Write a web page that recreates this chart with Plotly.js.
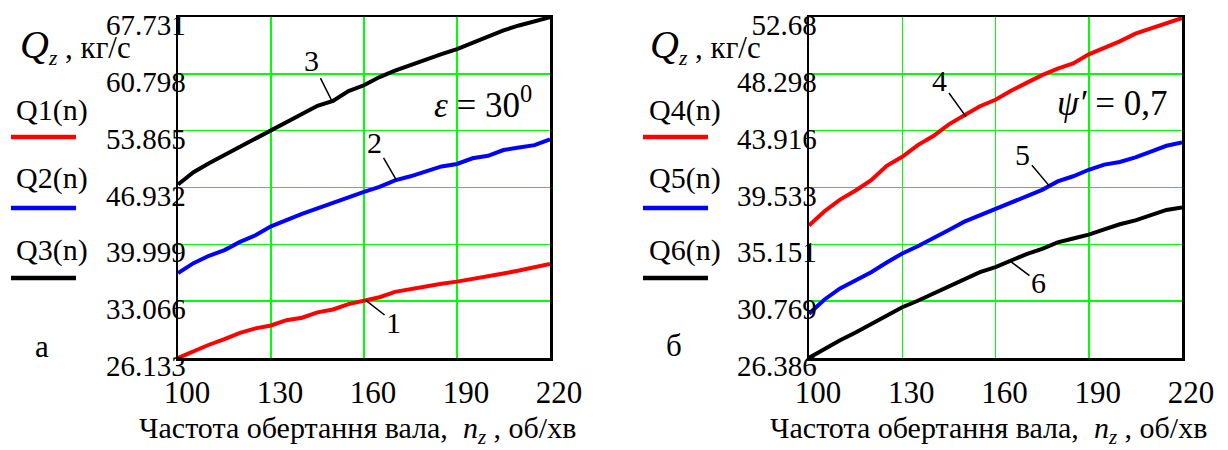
<!DOCTYPE html>
<html>
<head>
<meta charset="utf-8">
<script src="https://cdn.plot.ly/plotly-3.0.1.min.js"></script>
<style>html,body{margin:0;padding:0;background:#fff;}#chart{width:1228px;height:450px;}</style>
</head>
<body>
<div id="chart"></div>
<script>
// ---- data ----
const nValues = [100,105,110,115,120,125,130,135,140,145,150,155,160,165,170,175,180,185,190,195,200,205,210,215,220];
const Q1 = [26.13,27.0,27.75,28.45,29.2,29.75,30.1,30.75,31.05,31.7,32.05,32.7,33.15,33.55,34.2,34.55,34.9,35.2,35.45,35.75,36.1,36.45,36.8,37.15,37.6];
const Q2 = [36.5,37.7,38.6,39.3,40.3,41.1,42.2,43.0,43.7,44.4,45.1,45.8,46.4,47.0,47.8,48.3,48.9,49.5,49.8,50.5,50.8,51.5,51.8,52.1,52.8];
const Q3 = [47.3,48.8,49.9,50.9,51.9,52.9,53.9,54.9,55.9,56.9,57.5,58.7,59.4,60.4,61.2,61.9,62.5,63.2,63.8,64.6,65.4,66.1,66.7,67.2,67.7];
const Q4 = [36.6,37.7,38.6,39.3,40.1,41.2,41.9,42.8,43.5,44.4,45.1,45.8,46.3,47.0,47.6,48.2,48.7,49.1,49.8,50.3,50.8,51.4,51.8,52.2,52.6];
const Q5 = [29.8,30.9,31.75,32.35,33.0,33.75,34.45,35.0,35.6,36.25,36.9,37.4,37.9,38.4,38.9,39.35,40.0,40.4,40.9,41.3,41.5,41.85,42.3,42.75,43.0];
const Q6 = [26.4,27.1,27.75,28.35,29.0,29.7,30.3,30.8,31.35,31.9,32.5,33.0,33.4,33.9,34.4,34.8,35.3,35.6,35.9,36.3,36.7,37.0,37.4,37.8,38.0];

const xTicks = [100,130,160,190,220];
const xTickText = ['100','130','160','190','220'];
const yTicksLeft = [26.133,33.066,39.999,46.932,53.865,60.798,67.731];
const yTickTextLeft = ['26.133','33.066','39.999','46.932','53.865','60.798','67.731'];
const yTicksRight = [26.386,30.769,35.151,39.533,43.916,48.298,52.68];
const yTickTextRight = ['26.386','30.769','35.151','39.533','43.916','48.298','52.68'];

const legendLeft = ['Q1(n)','Q2(n)','Q3(n)'];
const legendRight = ['Q4(n)','Q5(n)','Q6(n)'];
const xTitle = 'Частота обертання вала,  <i>n</i><sub><i>z</i></sub> , об/хв';
const yTitle = '<span style="font-size:40px"><i>Q</i></span><sub><i>z</i></sub> , кг/с';

// ---- style ----
const W = 1228, H = 450;
const px = v => v / W;
const py = v => 1 - v / H;
const FONT = 'Liberation Serif';
const RED = '#ff0000', BLUE = '#0000ff', BLACK = '#000000', GRID = '#00ff00';

function line(x, y, color, xa, ya) {
  return {x: x, y: y, xaxis: xa, yaxis: ya, type: 'scatter', mode: 'lines',
          line: {color: color, width: 4}, showlegend: false, hoverinfo: 'skip'};
}
const traces = [
  line(nValues, Q1, RED, 'x', 'y'),
  line(nValues, Q2, BLUE, 'x', 'y'),
  line(nValues, Q3, BLACK, 'x', 'y'),
  line(nValues, Q4, RED, 'x2', 'y2'),
  line(nValues, Q5, BLUE, 'x2', 'y2'),
  line(nValues, Q6, BLACK, 'x2', 'y2')
];

function xaxisDef(dom, anchor) {
  return {domain: dom, anchor: anchor, range: [100, 220], tickvals: xTicks, ticktext: xTickText,
    showgrid: true, gridcolor: GRID, gridwidth: 1.5, zeroline: false,
    showline: true, linecolor: BLACK, linewidth: 2.5, mirror: true, ticks: '',
    tickfont: {family: FONT, size: 31, color: BLACK}, ticklabelshift: 9, ticklabelstandoff: 5};
}
function yaxisDef(anchor, rng, tv, tt) {
  return {domain: [py(358), py(17)], anchor: anchor, range: rng, tickvals: tv, ticktext: tt,
    showgrid: true, gridcolor: GRID, gridwidth: 1.5, zeroline: false,
    showline: true, linecolor: BLACK, linewidth: 2.5, mirror: true, ticks: '',
    tickfont: {family: FONT, size: 29, color: BLACK}, ticklabelshift: 8, ticklabelstandoff: -16};
}

const ann = [];
function txt(x, y, text, size, extra) {
  ann.push(Object.assign({xref: 'paper', yref: 'paper', x: px(x), y: py(y), text: text, showarrow: false,
    font: {family: FONT, size: size, color: BLACK}, xanchor: 'center', yanchor: 'middle'}, extra || {}));
}
// axis titles
txt(357, 430, xTitle, 30);
txt(988, 430, xTitle, 30);
// y titles
txt(18, 46, yTitle, 31, {xanchor: 'left'});
txt(648, 46, yTitle, 31, {xanchor: 'left'});
// legends
const legY = [110, 178, 250];
legendLeft.forEach((t, i) => txt(14, legY[i], t, 30, {xanchor: 'left'}));
legendRight.forEach((t, i) => txt(647, legY[i], t, 30, {xanchor: 'left'}));
// panel letters
txt(42, 346, 'а', 31);
txt(674, 345, 'б', 31);
// parameter labels
txt(483, 102, '<i>ε</i> = 30<sup>0</sup>', 35);
txt(1112, 103, '<i>ψ′</i> = 0,7', 35);
// curve labels with leaders
function curveLabel(text, xa, ya, xv, yv, axp, ayp) {
  ann.push({xref: xa, yref: ya, x: xv, y: yv, text: text, showarrow: true, arrowhead: 0,
    arrowwidth: 1.5, arrowcolor: BLACK, ax: axp, ay: ayp, standoff: 0, startstandoff: 0,
    font: {family: FONT, size: 30, color: BLACK}});
}
curveLabel('3', 'x', 'y', 149.5, 57.6, -20, -40);
curveLabel('2', 'x', 'y', 170.5, 47.8, -22, -38);
curveLabel('1', 'x', 'y', 160.5, 33.2, 28, 22);
curveLabel('4', 'x2', 'y2', 150.5, 45.0, -26, -36);
curveLabel('5', 'x2', 'y2', 177.5, 39.6, -27, -32);
curveLabel('6', 'x2', 'y2', 164.5, 33.9, 29, 22);

// legend swatches
const shapes = [];
const swY = [137, 208, 278];
const swC = [RED, BLUE, BLACK];
swY.forEach((y, i) => {
  shapes.push({type: 'line', xref: 'paper', yref: 'paper', x0: px(11), x1: px(76), y0: py(y), y1: py(y),
    line: {color: swC[i], width: 4.5}});
  shapes.push({type: 'line', xref: 'paper', yref: 'paper', x0: px(643), x1: px(708), y0: py(y), y1: py(y),
    line: {color: swC[i], width: 4.5}});
});

const layout = {
  width: W, height: H, margin: {l: 0, r: 0, t: 0, b: 0},
  paper_bgcolor: '#fff', plot_bgcolor: '#fff', showlegend: false,
  font: {family: FONT, color: BLACK},
  xaxis: xaxisDef([px(178), px(550)], 'y'),
  yaxis: yaxisDef('x', [26.133, 67.731], yTicksLeft, yTickTextLeft),
  xaxis2: xaxisDef([px(809), px(1182)], 'y2'),
  yaxis2: yaxisDef('x2', [26.386, 52.68], yTicksRight, yTickTextRight),
  annotations: ann, shapes: shapes
};

Plotly.newPlot('chart', traces, layout, {staticPlot: true, displayModeBar: false});
</script>
</body>
</html>
